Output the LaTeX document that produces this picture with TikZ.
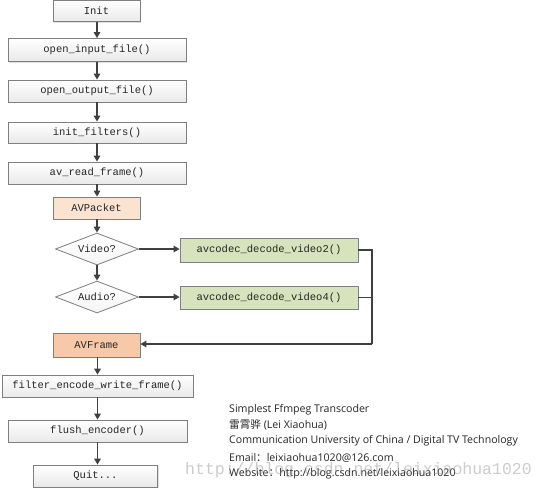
\documentclass[tikz,border=0pt]{standalone}
\usepackage{fontspec}
\setmainfont{Open Sans}
\setmonofont{Liberation Mono}
\newfontfamily\cjk{Noto Sans CJK SC}
\usetikzlibrary{shapes.geometric,arrows.meta,shadows}
\definecolor{boxline}{HTML}{7F7F7F}
\definecolor{boxgray}{HTML}{E9E9E9}
\definecolor{pktfill}{HTML}{FBE3D2}
\definecolor{frmfill}{HTML}{F7C9A9}
\definecolor{greenfill}{HTML}{D7E3BD}
\definecolor{arrowcol}{HTML}{404040}
\tikzset{
  basebox/.style={rectangle, draw=boxline, line width=0.8pt, inner sep=0pt,
    font=\ttfamily\fontsize{10.5}{12}\selectfont, text=black!85,
    drop shadow={shadow xshift=1.2pt, shadow yshift=-1.2pt, opacity=0.25}},
  graybox/.style={basebox, top color=white, bottom color=boxgray},
  pktbox/.style={basebox, fill=pktfill},
  frmbox/.style={basebox, fill=frmfill},
  greenbox/.style={basebox, fill=greenfill},
  decision/.style={diamond, draw=boxline, line width=0.8pt, inner sep=0pt, aspect=2.6,
    top color=white, bottom color=gray!8,
    font=\ttfamily\fontsize{10.5}{12}\selectfont, text=black!85,
    minimum width=83pt, minimum height=32pt},
  flow/.style={draw=arrowcol, line width=1.5pt, -{Triangle[width=6.5pt,length=6pt]}},
  joinline/.style={draw=arrowcol, line width=1.1pt},
  joinarrow/.style={draw=arrowcol, line width=1.1pt, -{Triangle[width=6.5pt,length=6pt]}},
  info/.style={anchor=base west, inner sep=0pt, font=\fontsize{10.6}{13}\selectfont, text=black!85},
}
\begin{document}
\begin{tikzpicture}[x=1pt,y=-1pt]
\useasboundingbox[fill=white] (0,0) rectangle (548,490);
\node[graybox, minimum width=87pt, minimum height=21pt] (init) at (96.5,11) {Init};
\node[graybox, minimum width=178pt, minimum height=23pt] (oif) at (97,50) {open\_input\_file()};
\node[graybox, minimum width=178pt, minimum height=22pt] (oof) at (97,91) {open\_output\_file()};
\node[graybox, minimum width=178pt, minimum height=21pt] (inf) at (97,132.5) {init\_filters()};
\node[graybox, minimum width=178pt, minimum height=22pt] (arf) at (97,173) {av\_read\_frame()};
\node[pktbox, minimum width=87pt, minimum height=22pt] (pkt) at (96.5,208) {AVPacket};
\node[decision] (vid) at (97,249) {Video?};
\node[decision] (aud) at (97,297) {Audio?};
\node[greenbox, minimum width=178pt, minimum height=24pt] (v2) at (269,250) {avcodec\_decode\_video2()};
\node[greenbox, minimum width=178pt, minimum height=23pt] (v4) at (269,297.5) {avcodec\_decode\_video4()};
\node[frmbox, minimum width=87pt, minimum height=24pt] (frm) at (96.5,345) {AVFrame};
\node[graybox, minimum width=191pt, minimum height=22pt] (few) at (97.5,386) {filter\_encode\_write\_frame()};
\node[graybox, minimum width=179pt, minimum height=22pt] (fle) at (97.5,431) {flush\_encoder()};
\node[graybox, minimum width=124pt, minimum height=22pt] (quit) at (95.5,476) {Quit...};
\coordinate (jn) at (372,344);

\draw[flow] (init.south -| oif.north) -- (oif.north);
\draw[flow] (oif) -- (oof);
\draw[flow] (oof) -- (inf);
\draw[flow] (inf) -- (arf);
\draw[flow] (arf.south) -- (arf.south |- pkt.north);
\draw[flow] (pkt.south -| vid.north) -- (vid.north);
\draw[flow] (vid) -- (aud);
\draw[joinarrow] (vid.east) -- (vid.east -| v2.west);
\draw[joinarrow] (aud.east) -- (aud.east -| v4.west);
\draw[joinline] (v2.east) -| (jn);
\draw[joinline] (v4.east) -- (v4.east -| jn);
\draw[joinarrow] (jn) -- (jn -| frm.east);
\draw[flow] (frm.south -| few.north) -- (few.north);
\draw[flow] (few) -- (fle);
\draw[flow] (fle.south) -- (fle.south |- quit.north);

\node[info] (t1) at (229,412) {Simplest Ffmpeg Transcoder};
\node[info] (t2) at (229,428) {{\cjk 雷霄骅} (Lei Xiaohua)};
\node[info] (t3) at (229,443.5) {Communication University of China / Digital TV Technology};
\node[info] (t4) at (229,461) {Email{\cjk ：}leixiaohua1020@126.com};
\node[info] (t5) at (229,476) {Website{\cjk ：}http://blog.csdn.net/leixiaohua1020};
\node[anchor=base west, inner sep=0pt, font=\ttfamily\fontsize{16.5}{18}\selectfont, text=gray, opacity=0.4] (wm) at (185,474) {http://blog.csdn.net/leixiaohua1020};
\end{tikzpicture}
\end{document}
